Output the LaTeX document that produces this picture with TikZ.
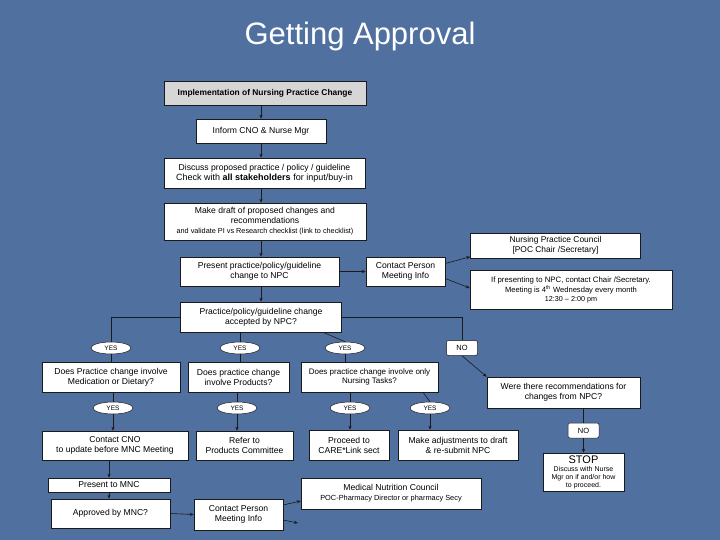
\documentclass[tikz,border=0pt]{standalone}
\usepackage{fontspec}
\setmainfont{Liberation Sans}
\usetikzlibrary{arrows.meta,positioning,shapes.geometric}
\definecolor{slide}{HTML}{5070A0}
\definecolor{header}{HTML}{D6D6D6}
\definecolor{edge}{HTML}{1A1A1A}

\begin{document}
\begin{tikzpicture}[x=1pt,y=-1pt,
  box/.style={draw=edge,fill=white,line width=0.5pt,align=center,inner sep=1pt,font=\fontsize{8.6}{10}\selectfont},
  yes/.style={ellipse,draw=edge,fill=white,line width=0.5pt,minimum width=40pt,minimum height=12pt,inner sep=0pt,font=\fontsize{6.5}{7}\selectfont},
  nobox/.style={draw=edge,fill=white,rounded corners=2pt,line width=0.5pt,minimum width=31pt,minimum height=15pt,inner sep=0pt,font=\fontsize{7.5}{8}\selectfont},
  small/.style={font=\fontsize{7}{8}\selectfont},
  arr/.style={-{Stealth[length=4pt,width=3.2pt]},line width=0.6pt,edge},
  link/.style={line width=0.6pt,edge}]

  \fill[slide] (0,0) rectangle (720,540);
  \useasboundingbox (0,0) rectangle (720,540);

  \node[text=white,font=\fontsize{31}{34}\selectfont] (title) at (360,36) {Getting Approval};

  % main column
  \node[box,fill=header,minimum width=202pt,minimum height=24pt,font=\fontsize{8.4}{10}\selectfont\bfseries] (impl) at (265,93) {Implementation of Nursing Practice Change};
  \node[box,minimum width=130pt,minimum height=24pt] (inform) at (261,131) {Inform CNO \& Nurse Mgr};
  \node[box,minimum width=201pt,minimum height=30pt] (discuss) at (264.5,173) {Discuss proposed practice / policy / guideline\\{\fontsize{9}{10}\selectfont Check with \textbf{all stakeholders} for input/buy-in}};
  \node[box,minimum width=202pt,minimum height=37pt] (draft) at (265,221.5) {Make draft of proposed changes and\\recommendations\\{\fontsize{7.3}{8.5}\selectfont and validate PI vs Research checklist (link to checklist)}};
  \node[box,minimum width=159pt,minimum height=29pt] (present) at (259.5,271.5) {Present practice/policy/guideline\\change to NPC};
  \node[box,minimum width=79pt,minimum height=29pt] (contactA) at (405.5,271.5) {Contact Person\\Meeting Info};
  \node[box,minimum width=170pt,minimum height=25pt,font=\fontsize{8.4}{9.5}\selectfont] (npc) at (555.5,245.5) {Nursing Practice Council\\{[}POC Chair /Secretary{]}};
  \node[box,minimum width=202pt,minimum height=39pt,font=\fontsize{7.8}{9.5}\selectfont] (meeting) at (571,290) {If presenting to NPC, contact Chair /Secretary.\\{\fontsize{7.6}{8.5}\selectfont Meeting is 4\textsuperscript{th} Wednesday every month}\\{\fontsize{7.2}{8.5}\selectfont 12:30 -- 2:00 pm}};
  \node[box,minimum width=161pt,minimum height=30pt] (accepted) at (261,317) {Practice/policy/guideline change\\accepted by NPC?};

  % first decision row
  \node[yes] (yes1) at (111,348) {YES};
  \node[yes] (yes2) at (240,348) {YES};
  \node[yes] (yes3) at (345,348) {YES};
  \node[nobox] (noA) at (462,348) {NO};

  \node[box,minimum width=138pt,minimum height=30pt] (qMed) at (111,377) {Does Practice change involve\\Medication or Dietary?};
  \node[box,minimum width=101pt,minimum height=30pt] (qProd) at (238.5,377) {Does practice change\\involve Products?};
  \node[box,minimum width=137pt,minimum height=30pt,font=\fontsize{8}{9.5}\selectfont] (qNurse) at (369.5,377) {Does practice change involve only\\Nursing Tasks?};
  \node[box,minimum width=153pt,minimum height=31pt] (qRec) at (563.5,392.5) {Were there recommendations for\\changes from NPC?};

  % second decision row
  \node[yes] (yes4) at (113,408) {YES};
  \node[yes] (yes5) at (237,408) {YES};
  \node[yes] (yes6) at (350,408) {YES};
  \node[yes] (yes7) at (430,408) {YES};
  \node[nobox] (noB) at (583.5,430.5) {NO};

  \node[box,minimum width=146pt,minimum height=29pt] (cno) at (115,445.5) {Contact CNO\\to update before MNC Meeting};
  \node[box,minimum width=97pt,minimum height=29pt] (refer) at (244.5,445.5) {Refer to\\Products Committee};
  \node[box,minimum width=80pt,minimum height=30pt] (proceed) at (349,445) {Proceed to\\CARE*Link sect};
  \node[box,minimum width=120pt,minimum height=30pt] (adjust) at (458,445) {Make adjustments to draft\\\& re-submit NPC};
  \node[box,minimum width=81pt,minimum height=38pt,small] (stop) at (583.5,472) {{\fontsize{11}{12}\selectfont STOP}\\Discuss with Nurse\\Mgr on if and/or how\\to proceed.};

  % MNC path
  \node[box,minimum width=122pt,minimum height=14pt,inner sep=0pt] (presMNC) at (109,485) {Present to MNC};
  \node[box,minimum width=119pt,minimum height=29pt] (approved) at (110.5,513.5) {Approved by MNC?};
  \node[box,minimum width=89pt,minimum height=31pt] (contactB) at (238.5,514.5) {Contact Person\\Meeting Info};
  \node[box,minimum width=180pt,minimum height=31pt] (mnc) at (391,493.5) {Medical Nutrition Council\\{\fontsize{7.4}{8.5}\selectfont POC-Pharmacy Director or pharmacy Secy}};
  \coordinate (offA) at (298,523);

  % connectors
  \draw[arr] (impl.south -| inform) -- (inform.north);
  \draw[arr] (inform.south) -- (discuss.north -| inform);
  \draw[arr] (discuss.south -| inform) -- (draft.north -| inform);
  \draw[arr] (draft.south -| inform) -- (present.north -| inform);
  \draw[arr] (present.south -| inform) -- (accepted.north -| inform);
  \draw[arr] (present.east) -- (contactA.west);
  \draw[arr] ([yshift=8pt]contactA.east) -- ([yshift=1.5pt]npc.south west);
  \draw[arr] ([yshift=-7pt]contactA.east) -- ([yshift=2pt]meeting.west);

  \draw[link] (accepted.west) -| (yes1.north);
  \draw[link] (accepted.east) -| (noA.north);
  \draw[link] (accepted.south -| yes2) -- (yes2.north);
  \draw[link] ([xshift=62pt]accepted.south) -- (yes3.north);
  \draw[arr] (noA.south) -- (qRec.north west);

  \draw[link] (yes1.south) -- (qMed.north -| yes1);
  \draw[link] (yes2.south) -- (qProd.north -| yes2);
  \draw[link] (yes3.south) -- (qNurse.north -| yes3);

  \draw[link] (qMed.south -| yes4) -- (yes4.north);
  \draw[link] (qProd.south -| yes5) -- (yes5.north);
  \draw[link] (qNurse.south -| yes6) -- (yes6.north);
  \draw[link] ([xshift=53.5pt]qNurse.south) -- (yes7.north);
  \draw[link] (qRec.south -| noB) -- (noB.north);

  \draw[arr] (yes4.south) -- (cno.north -| yes4);
  \draw[arr] (yes5.south) -- (refer.north -| yes5);
  \draw[arr] (yes6.south) -- (proceed.north -| yes6);
  \draw[arr] (yes7.south) -- (adjust.north -| yes7);
  \draw[arr] (noB.south) -- (stop.north);

  \draw[arr] (cno.south -| presMNC) -- (presMNC.north);
  \draw[arr] (presMNC.south) -- (approved.north -| presMNC);
  \draw[arr] (approved.east) -- (contactB.west);
  \draw[arr] ([yshift=9.5pt]contactB.east) -- ([yshift=-7.5pt]mnc.west);
  \draw[arr] ([yshift=-5.5pt]contactB.east) -- (offA);
\end{tikzpicture}
\end{document}
